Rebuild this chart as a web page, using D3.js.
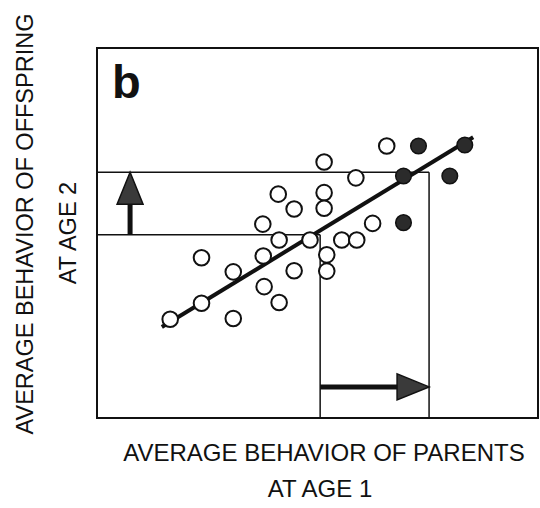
<!DOCTYPE html>
<html>
<head>
<meta charset="utf-8">
<script src="https://cdn.jsdelivr.net/npm/d3@7"></script>
<style>
  body { margin: 0; background: #fff; }
  text { font-family: "Liberation Sans", Arial, sans-serif; fill: #111; }
</style>
</head>
<body>
<div id="chart"></div>
<script>
// open circles: offspring of unselected parents
const openX = [6.57, 5.15, 5.87, 4.11, 5.15, 4.47, 5.15, 3.76, 6.25, 4.13, 4.83, 5.55, 5.89,
               2.37, 3.77, 5.21, 3.09, 4.47, 5.21, 3.79, 2.37, 4.13, 1.66, 3.09];
const openY = [7.35, 6.92, 6.49, 6.05, 6.09, 5.65, 5.67, 5.24, 5.26, 4.81, 4.81, 4.81, 4.81,
               4.33, 4.38, 4.41, 3.95, 3.98, 3.97, 3.55, 3.10, 3.12, 2.67, 2.69];
// filled circles: selected parents
const selX = [7.29, 8.34, 6.95, 8.00, 6.95];
const selY = [7.35, 7.38, 6.54, 6.54, 5.28];
// regression line end points
const fitX = [1.47, 8.53];
const fitY = [2.46, 7.59];
// population means and selected means
const meanParent = 5.06, meanOffspring = 4.95;
const selParent = 7.53, selOffspring = 6.64;

const W = 540, H = 508;
const x = d3.scaleLinear().domain([0, 10]).range([97, 538]);
const y = d3.scaleLinear().domain([0, 10]).range([418, 48]);

const svg = d3.select("#chart").append("svg")
    .attr("width", W)
    .attr("height", H);

// frame
svg.append("rect")
    .attr("x", x(0)).attr("y", y(10))
    .attr("width", x(10) - x(0)).attr("height", y(0) - y(10))
    .attr("fill", "none").attr("stroke", "#111").attr("stroke-width", 2);

svg.append("text")
    .attr("x", 112).attr("y", 98)
    .style("font-size", "47px").style("font-weight", "bold")
    .text("b");

// reference lines
const ref = svg.append("g").attr("stroke", "#111").attr("stroke-width", 1.5).attr("fill", "none");
ref.append("line").attr("x1", x(0)).attr("x2", x(meanParent))
    .attr("y1", y(meanOffspring)).attr("y2", y(meanOffspring));
ref.append("line").attr("x1", x(0)).attr("x2", x(selParent))
    .attr("y1", y(selOffspring)).attr("y2", y(selOffspring));
ref.append("line").attr("x1", x(meanParent)).attr("x2", x(meanParent))
    .attr("y1", y(meanOffspring)).attr("y2", y(0));
ref.append("line").attr("x1", x(selParent)).attr("x2", x(selParent))
    .attr("y1", y(selOffspring)).attr("y2", y(0));

// regression line
const fit = fitX.map((d, i) => [d, fitY[i]]);
svg.append("path")
    .datum(fit)
    .attr("fill", "none").attr("stroke", "#111").attr("stroke-width", 4)
    .attr("d", d3.line().x(d => x(d[0])).y(d => y(d[1])));

// arrows showing the selection differential and response
const headFill = "#3a3a3a";
const ax = 0.75, ay = 0.84;
svg.append("line")
    .attr("x1", x(ax)).attr("x2", x(ax))
    .attr("y1", y(meanOffspring)).attr("y2", y(selOffspring) + 28)
    .attr("stroke", "#111").attr("stroke-width", 5);
svg.append("path")
    .attr("d", `M${x(ax)},${y(selOffspring)} L${x(ax) - 13},${y(selOffspring) + 32} L${x(ax) + 13},${y(selOffspring) + 32}Z`)
    .attr("fill", headFill).attr("stroke", "#111").attr("stroke-width", 1.5);

svg.append("line")
    .attr("x1", x(meanParent)).attr("x2", x(selParent) - 28)
    .attr("y1", y(ay)).attr("y2", y(ay))
    .attr("stroke", "#111").attr("stroke-width", 5);
svg.append("path")
    .attr("d", `M${x(selParent)},${y(ay)} L${x(selParent) - 32},${y(ay) - 13} L${x(selParent) - 32},${y(ay) + 13}Z`)
    .attr("fill", headFill).attr("stroke", "#111").attr("stroke-width", 1.5);

// points
svg.append("g").selectAll("circle")
    .data(openX.map((d, i) => [d, openY[i]]))
    .join("circle")
    .attr("cx", d => x(d[0])).attr("cy", d => y(d[1]))
    .attr("r", 7.8)
    .attr("fill", "#fff").attr("stroke", "#111").attr("stroke-width", 2);

svg.append("g").selectAll("circle")
    .data(selX.map((d, i) => [d, selY[i]]))
    .join("circle")
    .attr("cx", d => x(d[0])).attr("cy", d => y(d[1]))
    .attr("r", 7.8)
    .attr("fill", "#2b2b2b").attr("stroke", "#111").attr("stroke-width", 1.5);

// axis titles
svg.append("text")
    .attr("x", 324).attr("y", 461)
    .attr("text-anchor", "middle").style("font-size", "24px")
    .text("AVERAGE BEHAVIOR OF PARENTS");
svg.append("text")
    .attr("x", 320).attr("y", 497)
    .attr("text-anchor", "middle").style("font-size", "24px")
    .text("AT AGE 1");

svg.append("text")
    .attr("transform", "translate(33,224) rotate(-90)")
    .attr("text-anchor", "middle").style("font-size", "23.5px")
    .text("AVERAGE BEHAVIOR OF OFFSPRING");
svg.append("text")
    .attr("transform", "translate(76,233) rotate(-90)")
    .attr("text-anchor", "middle").style("font-size", "23.5px")
    .text("AT AGE 2");
</script>
</body>
</html>
